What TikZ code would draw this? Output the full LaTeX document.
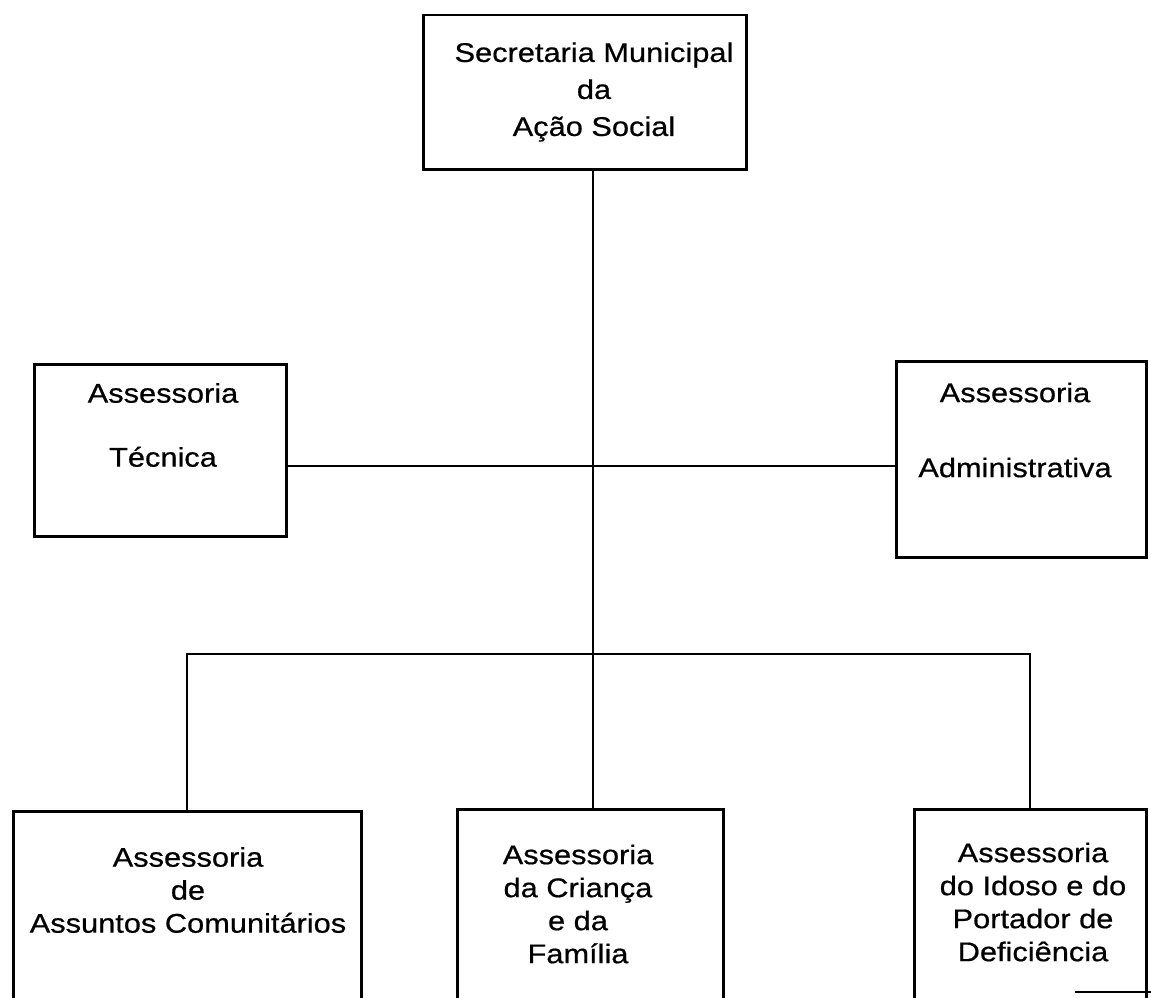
\documentclass[tikz,border=0pt]{standalone}
\usepackage{fontspec}
\setmainfont{Liberation Sans}[FakeStretch=1.14, FakeBold=0.6]
\usetikzlibrary{positioning}
\tikzset{
  caixa/.style={draw, line width=2.5pt, inner sep=0pt, anchor=north west},
  rotulo/.style={align=center, font=\fontsize{27}{33}\selectfont, inner sep=0pt},
  liga/.style={line width=2pt}
}

\begin{document}
\begin{tikzpicture}[x=1pt,y=-1pt]
    \useasboundingbox (0,0) rectangle (1151,998);
    \clip (0,0) rectangle (1151,998);
    % caixas
    \node[caixa, minimum width=323pt, minimum height=154pt] (sec) at (422,14) {};
    \node[caixa, minimum width=252pt, minimum height=172pt] (tec) at (33,363) {};
    \node[caixa, minimum width=250pt, minimum height=196pt] (adm) at (895,360) {};
    \node[caixa, minimum width=348pt, minimum height=230pt] (com) at (12,810) {};
    \node[caixa, minimum width=266pt, minimum height=230pt] (cri) at (456,808) {};
    \node[caixa, minimum width=232pt, minimum height=230pt] (ido) at (913,808) {};
    % textos
    \node[rotulo, font=\fontsize{27}{37}\selectfont] (tsec) at (594,92) {Secretaria Municipal\\da\\Ação Social};
    \node[rotulo] (ttec) at (163,425) {Assessoria\\[31pt]Técnica};
    \node[rotulo] (tadm) at (1015,430) {Assessoria\\[42pt]Administrativa};
    \node[rotulo] (tcom) at (188,890) {Assessoria\\de\\Assuntos Comunitários};
    \node[rotulo] (tcri) at (578,904) {Assessoria\\da Criança\\e da\\Família};
    \node[rotulo] (tido) at (1033,902) {Assessoria\\do Idoso e do\\Portador de\\Deficiência};
    % ligacoes
    \coordinate (meio) at (593,466);
    \coordinate (ramo) at (593,654);
    \draw[liga] (sec.south -| meio) -- (cri.north -| meio);
    \draw[liga] (tec.east |- meio) -- (adm.west |- meio);
    \draw[liga] (com.north) |- (ramo) -| (ido.north);
    \draw[liga] (1075,992) -- (1151,992);
\end{tikzpicture}
\end{document}
